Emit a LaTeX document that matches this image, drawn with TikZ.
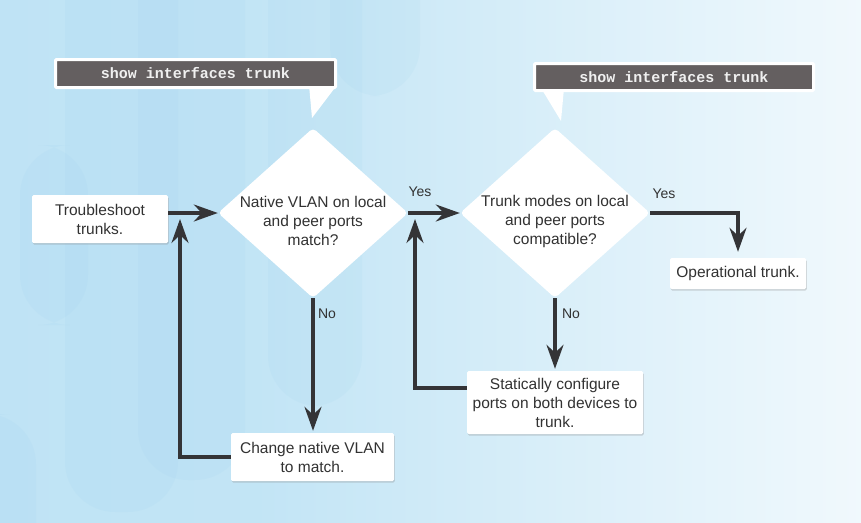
\documentclass[tikz,border=0pt]{standalone}
\usepackage{fontspec}
\setmainfont{Liberation Sans}
\setmonofont{Liberation Mono}
\usetikzlibrary{shapes.geometric,arrows.meta,shadows}

\definecolor{bgblue}{RGB}{186,225,244}
\definecolor{pillblue}{RGB}{150,205,236}
\definecolor{cmdgrey}{RGB}{100,95,96}
\definecolor{linegrey}{RGB}{52,52,55}
\definecolor{txtgrey}{RGB}{50,50,50}
\pgfdeclarehorizontalshading{bgfade}{100bp}{color(0bp)=(bgblue); color(40bp)=(bgblue!88!white); color(86bp)=(white); color(100bp)=(white)}

\begin{document}
\begin{tikzpicture}[x=1pt,y=-1pt,
  flowbox/.style={rectangle,fill=white,rounded corners=1.5pt,inner sep=0pt,align=center,text=txtgrey,
    font=\fontsize{15.5}{19}\selectfont,drop shadow={shadow xshift=0.8pt,shadow yshift=-1.6pt,opacity=0.3}},
  decision/.style={diamond,fill=white,inner sep=0pt,minimum width=190pt,minimum height=170pt,rounded corners=4pt},
  qtext/.style={align=center,text=txtgrey,font=\fontsize{15.5}{19}\selectfont},
  lbl/.style={text=txtgrey,font=\fontsize{14}{14}\selectfont,inner sep=0pt},
  cmdbox/.style={rectangle,fill=cmdgrey,draw=white,line width=3pt,rounded corners=1pt,inner sep=0pt,
    text=white!94!black,font=\ttfamily\bfseries\fontsize{15}{15}\selectfont},
  flow/.style={line width=3.3pt,draw=linegrey,-{Stealth[length=24pt,width=17pt,inset=8pt]}},
  pill/.style={fill=pillblue,opacity=0.1,rounded corners=50pt}]

\useasboundingbox (0,0) rectangle (861,522);

%% background
\shade[shading=bgfade] (0,0) rectangle (861,522);
\fill[pill] (65,-60) rectangle (178,512);
\fill[pill] (20,145) rectangle (88,325);
\fill[pill] (138,-60) rectangle (245,480);
\fill[pill] (268,-60) rectangle (362,406);
\fill[pill] (330,-60) rectangle (420,96);
\fill[pill] (-40,414) rectangle (36,600);

%% callouts
\fill[white] (309,85) -- (312,118) -- (337,85) -- cycle;
\node[cmdbox,minimum width=280pt,minimum height=28pt] (cmd1) at (195.5,73.5) {show interfaces trunk};
\fill[white] (541,88) -- (561,121) -- (564,88) -- cycle;
\node[cmdbox,minimum width=279pt,minimum height=27pt] (cmd2) at (674,77) {show interfaces trunk};

%% decisions
\node[decision] (d1) at (313,213) {};
\node[qtext] (q1) at (313,221) {Native VLAN on local\\and peer ports\\match?};
\node[decision] (d2) at (555,213) {};
\node[qtext] (q2) at (555,221) {Trunk modes on local\\and peer ports\\compatible?};

%% boxes
\node[flowbox,minimum width=136pt,minimum height=48pt] (start) at (100,219) {Troubleshoot\\trunks.};
\node[flowbox,minimum width=163pt,minimum height=48pt] (change) at (312.5,457) {Change native VLAN\\to match.};
\node[flowbox,minimum width=176pt,minimum height=63pt] (static) at (555,402.5) {Statically configure\\ports on both devices to\\trunk.};
\node[flowbox,minimum width=136pt,minimum height=31pt] (oper) at (738,273.5) {Operational trunk.};

\coordinate (lp1) at (180,219);
\coordinate (lp2) at (415,219);

%% connectors
\draw[flow] (start.east |- d1.west) -- (d1.west);
\draw[flow] (d1.east) -- (d2.west);
\draw[flow] (d1.south) -- ([yshift=2pt]d1.south |- change.north);
\draw[flow] (d2.south) -- ([yshift=2pt]d2.south |- static.north);
\draw[flow] (d2.east) -| ([yshift=6pt]oper.north);
\draw[flow] (change.west) -| (lp1);
\draw[flow] ([yshift=14.5pt]static.west) -| (lp2);

%% labels
\node[lbl] (yes1) at (420,192) {Yes};
\node[lbl] (yes2) at (664,194) {Yes};
\node[lbl] (no1) at (327,314) {No};
\node[lbl] (no2) at (571,314) {No};
\end{tikzpicture}
\end{document}
